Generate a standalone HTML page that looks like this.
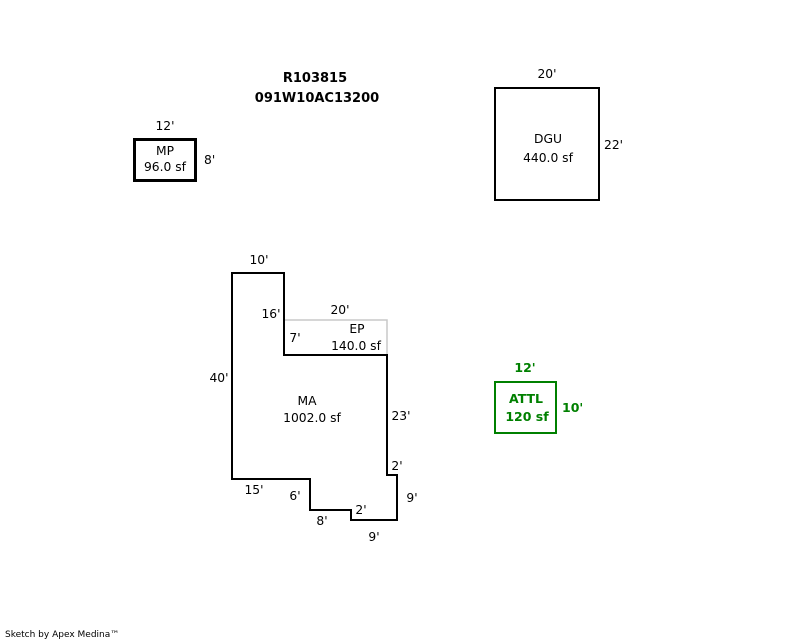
<!DOCTYPE html>
<html><head><style>
html,body{margin:0;padding:0;background:#fff;}
svg{display:block;}
text{font-family:"DejaVu Sans","Liberation Sans",sans-serif;font-size:12.3px;fill:#000;}
.b{font-weight:bold;font-size:13px;}
.g{fill:#008000;font-weight:bold;font-size:12.5px;}
</style></head><body>
<svg width="800" height="640" viewBox="0 0 800 640">
<text x="315" y="82" text-anchor="middle" class="b">R103815</text>
<text x="317" y="102" text-anchor="middle" class="b">091W10AC13200</text>

<rect x="134.5" y="139.5" width="61" height="41" fill="none" stroke="#000" stroke-width="3"/>
<text x="165" y="130" text-anchor="middle">12'</text>
<text x="165" y="155" text-anchor="middle">MP</text>
<text x="165" y="171" text-anchor="middle">96.0 sf</text>
<text x="204" y="164">8'</text>

<rect x="495" y="88" width="104" height="112" fill="none" stroke="#000" stroke-width="2"/>
<text x="547" y="78" text-anchor="middle">20'</text>
<text x="548" y="143" text-anchor="middle">DGU</text>
<text x="548" y="162" text-anchor="middle">440.0 sf</text>
<text x="604" y="149">22'</text>

<polyline points="284,320 387,320 387,355" fill="none" stroke="#c8c8c8" stroke-width="1.5"/>
<polygon points="232,273 284,273 284,355 387,355 387,475 397,475 397,520 351,520 351,510 310,510 310,479 232,479" fill="none" stroke="#000" stroke-width="2"/>
<text x="259" y="264" text-anchor="middle">10'</text>
<text x="271" y="318" text-anchor="middle">16'</text>
<text x="340" y="314" text-anchor="middle">20'</text>
<text x="295" y="342" text-anchor="middle">7'</text>
<text x="357" y="333" text-anchor="middle">EP</text>
<text x="356" y="350" text-anchor="middle">140.0 sf</text>
<text x="219" y="382" text-anchor="middle">40'</text>
<text x="307" y="405" text-anchor="middle">MA</text>
<text x="312" y="422" text-anchor="middle">1002.0 sf</text>
<text x="401" y="420" text-anchor="middle">23'</text>
<text x="397" y="470" text-anchor="middle">2'</text>
<text x="254" y="494" text-anchor="middle">15'</text>
<text x="295" y="500" text-anchor="middle">6'</text>
<text x="412" y="502" text-anchor="middle">9'</text>
<text x="361" y="514" text-anchor="middle">2'</text>
<text x="322" y="525" text-anchor="middle">8'</text>
<text x="374" y="541" text-anchor="middle">9'</text>

<rect x="495" y="382" width="61" height="51" fill="none" stroke="#008000" stroke-width="2"/>
<text x="525" y="372" text-anchor="middle" class="g">12'</text>
<text x="526" y="403" text-anchor="middle" class="g">ATTL</text>
<text x="527" y="421" text-anchor="middle" class="g">120 sf</text>
<text x="562" y="412" class="g">10'</text>

<text x="5" y="637" style="font-size:9px">Sketch by Apex Medina™</text>
</svg>
</body></html>
